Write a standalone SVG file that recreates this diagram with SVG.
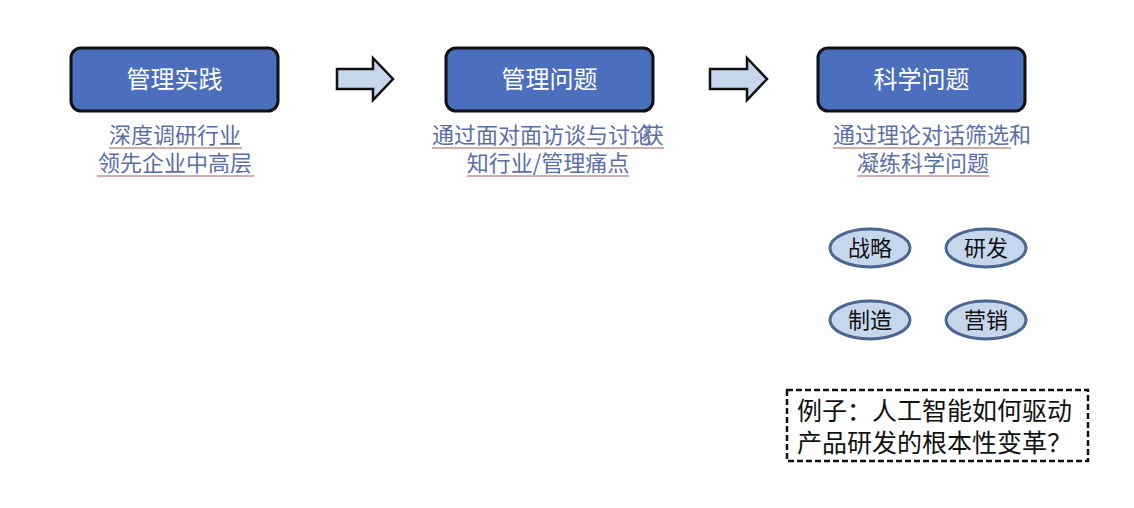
<svg xmlns="http://www.w3.org/2000/svg" width="1134" height="508" viewBox="0 0 1134 508">
<style>
.box{fill:#4c6fbd;stroke:#111;stroke-width:3}
.bt{font-family:"Noto Sans CJK SC",sans-serif;font-size:24px;font-weight:normal;fill:#fff;text-anchor:middle}
.lab{font-family:"Noto Sans CJK SC",sans-serif;font-size:22px;fill:#5a6fa8}
.ul{stroke:#b05a50;stroke-width:1.2}
.arr{fill:#c6d7ed;stroke:#111;stroke-width:2.5;stroke-linejoin:miter}
.ell{fill:#c6d7ed;stroke:#4b6690;stroke-width:3}
.et{font-family:"Noto Sans CJK SC",sans-serif;font-size:22px;fill:#111;text-anchor:middle}
.ex{font-family:"Noto Sans CJK SC",sans-serif;font-size:25px;fill:#111}
</style>
<rect width="1134" height="508" fill="#fff"/>
<g id="connectors">
<path class="arr" d="M337,69 H373 V58 L393,79 L373,100 V89 H337 Z"/>
<path class="arr" d="M710,69 H747 V58 L767,79 L747,100 V89 H710 Z"/>
</g>
<g id="node-practice">
<rect class="box" x="71" y="48" width="207" height="63" rx="10"/>
<text class="bt" x="174.5" y="88">管理实践</text>
</g>
<g id="node-mgmt-problem">
<rect class="box" x="446" y="48" width="207" height="63" rx="10"/>
<text class="bt" x="549.5" y="88">管理问题</text>
</g>
<g id="node-sci-problem">
<rect class="box" x="818" y="48" width="207" height="63" rx="10"/>
<text class="bt" x="921.5" y="88">科学问题</text>
</g>
<g id="label-practice">
<text class="lab" x="175" y="143" text-anchor="middle">深度调研行业</text>
<line class="ul" x1="109" y1="148" x2="242" y2="148"/>
<text class="lab" x="175" y="171" text-anchor="middle">领先企业中高层</text>
<line class="ul" x1="97" y1="176" x2="254" y2="176"/>
</g>
<g id="label-mgmt">
<text class="lab" x="432" y="143">通过面对面访谈与讨论<tspan dx="-10">获</tspan></text>
<line class="ul" x1="432" y1="148" x2="664" y2="148"/>
<text class="lab" x="548" y="171" text-anchor="middle">知行业/管理痛点</text>
<line class="ul" x1="467" y1="176" x2="629" y2="176"/>
</g>
<g id="label-sci">
<text class="lab" x="833" y="143">通过理论对话筛选和</text>
<line class="ul" x1="833" y1="148" x2="1011" y2="148"/>
<text class="lab" x="923" y="171" text-anchor="middle">凝练科学问题</text>
<line class="ul" x1="857" y1="176" x2="989" y2="176"/>
</g>
<g id="node-strategy">
<ellipse class="ell" cx="870" cy="248" rx="40" ry="19"/>
<text class="et" x="870" y="256">战略</text>
</g>
<g id="node-rd">
<ellipse class="ell" cx="986" cy="248" rx="40" ry="19"/>
<text class="et" x="986" y="256">研发</text>
</g>
<g id="node-manufacturing">
<ellipse class="ell" cx="870" cy="320" rx="40" ry="19"/>
<text class="et" x="870" y="328">制造</text>
</g>
<g id="node-marketing">
<ellipse class="ell" cx="986" cy="320" rx="40" ry="19"/>
<text class="et" x="986" y="328">营销</text>
</g>
<g id="node-example">
<rect x="787" y="390" width="301" height="71" fill="#fff" stroke="#111" stroke-width="2.5" stroke-dasharray="6,3"/>
<text class="ex" x="797" y="420">例子：人工智能如何驱动</text>
<text class="ex" x="797" y="452">产品研发的根本性变革？</text>
</g>
</svg>
